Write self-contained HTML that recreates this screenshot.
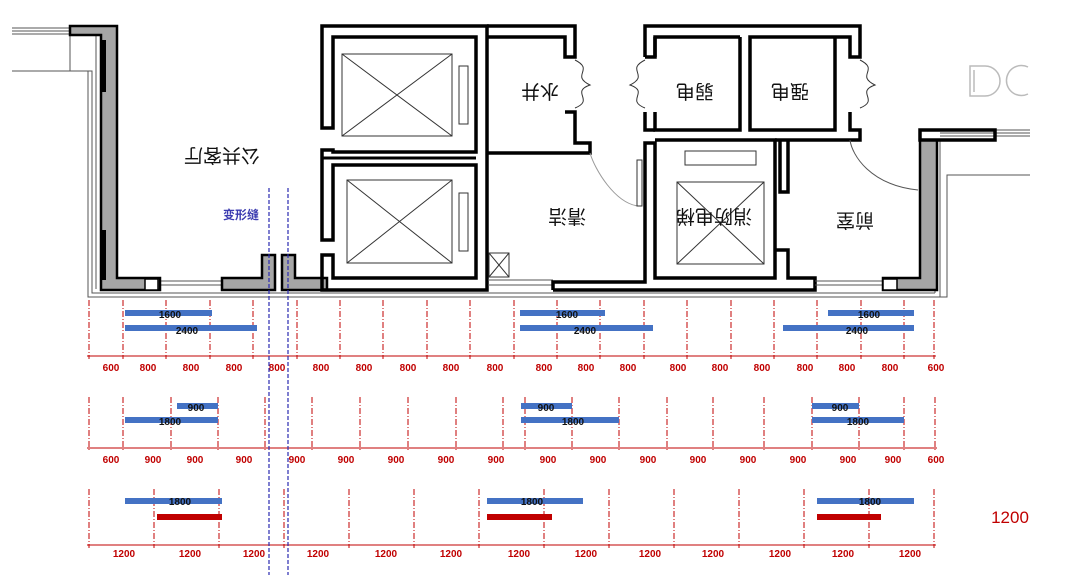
<!DOCTYPE html>
<html><head><meta charset="utf-8"><style>
html,body{margin:0;padding:0;background:#fff;}
svg{display:block;}
.w{fill:none;stroke:#000;stroke-width:3.5;}
.g{fill:#a6a6a6;stroke:#000;stroke-width:2.5;}
.t{fill:none;stroke:#555;stroke-width:1;}
.x{fill:none;stroke:#333;stroke-width:1;}
.cn{font-family:"Liberation Sans","Noto Sans CJK SC",sans-serif;font-size:19px;fill:#111;}
.d{stroke:#c00000;stroke-width:1;stroke-dasharray:6,2,1,2;}
.dl{stroke:#c00000;stroke-width:1;}
.lb{font-family:"Liberation Sans",sans-serif;font-size:10px;font-weight:bold;fill:#c00000;text-anchor:middle;}
.bl{fill:#4472c4;}
.bt{font-family:"Liberation Sans",sans-serif;font-size:10px;font-weight:bold;fill:#111;text-anchor:middle;}
</style></head><body>
<svg width="1080" height="579" viewBox="0 0 1080 579" xmlns="http://www.w3.org/2000/svg">
<g class="t">
<line x1="12" y1="28" x2="70" y2="28"/><line x1="12" y1="31" x2="70" y2="31"/><line x1="12" y1="34" x2="70" y2="34"/>
<polyline points="12,71 92,71 92,293 935,293"/><line x1="70" y1="35" x2="70" y2="71"/>
<polyline points="96,36 96,289"/><polyline points="88,71 88,297 947,297 947,175 1030,175"/>
<line x1="160" y1="281" x2="222" y2="281"/><line x1="160" y1="285" x2="222" y2="285"/>
<line x1="940" y1="130" x2="1030" y2="130"/><line x1="940" y1="133" x2="1030" y2="133"/><line x1="940" y1="136" x2="1030" y2="136"/>
<line x1="935" y1="140" x2="935" y2="293"/><line x1="940" y1="140" x2="940" y2="297"/>
</g>
<path class="g" d="M70,26 H117 V278 H160 V290 H101 V35 H70 Z"/>
<rect x="101" y="40" width="5" height="52" fill="#000"/>
<rect x="101" y="230" width="5" height="50" fill="#000"/>
<rect x="145" y="279" width="13" height="11" fill="#fff" stroke="#000" stroke-width="1.5"/>
<path class="g" d="M222,278 H262 V255 H275 V290 H222 Z"/>
<path class="g" d="M282,290 V255 H295 V278 H327 V290 Z"/>
<path class="w" d="M322,26 H487 V290 H322 V255 H333 V278 H476 V165 H333 V240 H322 V150 H333 V152 H476 V37 H333 V128 H322 Z"/>
<line x1="322" y1="158" x2="476" y2="158" stroke="#000" stroke-width="3"/>
<rect x="342" y="54" width="110" height="82" class="x"/><line x1="342" y1="54" x2="452" y2="136" class="x"/><line x1="452" y1="54" x2="342" y2="136" class="x"/>
<rect x="347" y="180" width="105" height="83" class="x"/><line x1="347" y1="180" x2="452" y2="263" class="x"/><line x1="452" y1="180" x2="347" y2="263" class="x"/>
<rect x="459" y="66" width="9" height="58" class="x"/><rect x="459" y="193" width="9" height="58" class="x"/>
<path class="w" d="M487,26 H575 V57 H565 V37 H488"/>
<path class="w" d="M565,112 H575 V143 H590 V153 H488"/>
<path d="M575,60 C595,70 570,75 590,85 C570,92 595,100 575,108" class="x"/>
<rect x="489" y="253" width="20" height="24" class="x"/><line x1="489" y1="253" x2="509" y2="277" class="x"/><line x1="509" y1="253" x2="489" y2="277" class="x"/>
<line x1="488" y1="280" x2="553" y2="280" class="t"/><line x1="488" y1="285" x2="553" y2="285" class="t"/>
<path class="w" d="M553,290 V282 H645 V143 H655 V278 H775 V140 H655"/>
<path d="M590,153 C595,170 615,203 638,206" fill="none" stroke="#999" stroke-width="1"/>
<rect x="637" y="160" width="5" height="46" class="x"/>
<rect x="677" y="182" width="87" height="82" class="x"/><line x1="677" y1="182" x2="764" y2="264" class="x"/><line x1="764" y1="182" x2="677" y2="264" class="x"/>
<rect x="685" y="151" width="71" height="14" class="x"/>
<path class="w" d="M645,57 V26 H860 V57 H850 V37 H750 V130 H835 V37 M740,37 H655 V57 H645"/>
<path class="w" d="M655,37 V57 M655,112 V130 H740 V37"/>
<path class="w" d="M645,112 V130 H655"/>
<path class="w" d="M850,112 V130 H860 V140 H775"/>
<path class="w" d="M780,140 V192 H788 V140"/>
<path d="M645,60 C625,70 650,75 630,85 C650,92 625,100 645,108" class="x"/>
<path d="M860,60 C880,70 855,75 875,85 C855,92 880,100 860,108" class="x"/>
<path d="M850,140 C852,155 870,185 918,190" fill="none" stroke="#555" stroke-width="1"/>
<path class="w" d="M775,250 H788 V278 H815 V290 H553"/>
<line x1="815" y1="281" x2="883" y2="281" class="t"/><line x1="815" y1="285" x2="883" y2="285" class="t"/>
<path class="g" d="M883,290 V278 H920 V140 H937 V290 Z"/>
<rect x="883" y="279" width="14" height="11" fill="#fff" stroke="#000" stroke-width="1.5"/>
<path class="w" d="M920,140 V130 H995 V140 Z"/>
<path d="M985,66 H970 V96 H985 A15,15 0 0 0 985,66 Z M974,70 V92" fill="none" stroke="#bbb" stroke-width="1.5"/>
<path d="M1028,67 A15,15 0 1 0 1028,94" fill="none" stroke="#bbb" stroke-width="1.5"/>
<text class="cn" transform="rotate(180 222 156)" x="222" y="163" text-anchor="middle">公共客厅</text>
<text class="cn" transform="rotate(180 540 92)" x="540" y="99" text-anchor="middle">水井</text>
<text class="cn" transform="rotate(180 695 92)" x="695" y="99" text-anchor="middle">弱电</text>
<text class="cn" transform="rotate(180 790 92)" x="790" y="99" text-anchor="middle">强电</text>
<text class="cn" transform="rotate(180 567 217)" x="567" y="224" text-anchor="middle">清洁</text>
<text class="cn" transform="rotate(180 714 217)" x="714" y="224" text-anchor="middle">消防电梯</text>
<text class="cn" transform="rotate(180 855 221)" x="855" y="228" text-anchor="middle">前室</text>
<text x="241" y="219" font-family="Liberation Sans,Noto Sans CJK SC,sans-serif" font-size="12" font-weight="bold" fill="#3b3bb0" text-anchor="middle">变形缝</text>
<line class="dl" x1="89" y1="356" x2="934" y2="356"/>
<line class="dl" x1="89" y1="448" x2="935" y2="448"/>
<line class="dl" x1="89" y1="545" x2="934" y2="545"/>
<g id="ticks"></g>
<rect class="bl" x="125" y="310" width="87" height="6"/><text class="bt" x="170" y="318">1600</text>
<rect class="bl" x="125" y="325" width="132" height="6"/><text class="bt" x="187" y="334">2400</text>
<rect class="bl" x="520" y="310" width="85" height="6"/><text class="bt" x="567" y="318">1600</text>
<rect class="bl" x="520" y="325" width="133" height="6"/><text class="bt" x="585" y="334">2400</text>
<rect class="bl" x="828" y="310" width="86" height="6"/><text class="bt" x="869" y="318">1600</text>
<rect class="bl" x="783" y="325" width="131" height="6"/><text class="bt" x="857" y="334">2400</text>
<rect class="bl" x="177" y="403" width="41" height="6"/><text class="bt" x="196" y="411">900</text>
<rect class="bl" x="125" y="417" width="93" height="6"/><text class="bt" x="170" y="425">1800</text>
<rect class="bl" x="521" y="403" width="51" height="6"/><text class="bt" x="546" y="411">900</text>
<rect class="bl" x="521" y="417" width="98" height="6"/><text class="bt" x="573" y="425">1800</text>
<rect class="bl" x="812" y="403" width="47" height="6"/><text class="bt" x="840" y="411">900</text>
<rect class="bl" x="812" y="417" width="92" height="6"/><text class="bt" x="858" y="425">1800</text>
<rect class="bl" x="125" y="498" width="97" height="6"/><text class="bt" x="180" y="505">1800</text>
<rect x="157" y="514" width="65" height="6" fill="#c00000"/>
<rect class="bl" x="487" y="498" width="96" height="6"/><text class="bt" x="532" y="505">1800</text>
<rect x="487" y="514" width="65" height="6" fill="#c00000"/>
<rect class="bl" x="817" y="498" width="97" height="6"/><text class="bt" x="870" y="505">1800</text>
<rect x="817" y="514" width="64" height="6" fill="#c00000"/>
<text x="1010" y="523" font-family="Liberation Sans,sans-serif" font-size="17" fill="#c00000" text-anchor="middle">1200</text>
<line x1="269" y1="188" x2="269" y2="575" stroke="#2a2ab0" stroke-width="1.2" stroke-dasharray="4,2"/>
<line x1="288" y1="188" x2="288" y2="575" stroke="#2a2ab0" stroke-width="1.2" stroke-dasharray="4,2"/>
</svg>
<script>
(function(){
var ns="http://www.w3.org/2000/svg",g=document.getElementById("ticks");
function ln(x1,y1,x2,y2,c){var l=document.createElementNS(ns,"line");l.setAttribute("x1",x1);l.setAttribute("y1",y1);l.setAttribute("x2",x2);l.setAttribute("y2",y2);l.setAttribute("class",c);g.appendChild(l);}
function tx(x,y,s){var t=document.createElementNS(ns,"text");t.setAttribute("x",x);t.setAttribute("y",y);t.setAttribute("class","lb");t.textContent=s;g.appendChild(t);}
function row(ts,y0,y1,ly,labs,lx){
 ts.forEach(function(x){ln(x,y0,x,y1+3,"d");ln(x-2,y1,x+2,y1,"dl");});
 labs.forEach(function(s,i){tx(lx[i],ly,s);});
}
var r1=[89,123],i;for(i=1;i<=18;i++)r1.push(Math.round(123+i*43.4));r1.push(934);
var lx1=[111,148,191,234,277,321,364,408,451,495,544,586,628,678,720,762,805,847,890,936];
var l1=[];for(i=0;i<lx1.length;i++)l1.push(i==0||i==lx1.length-1?"600":"800");
row(r1,300,356,371,l1,lx1);
var r2=[89,123,171,218,265,312,360,408,456,503,525,572,619,667,713,764,812,859,904,935];
var lx2=[111,153,195,244,297,346,396,446,496,548,598,648,698,748,798,848,893,936];
var l2=[];for(i=0;i<lx2.length;i++)l2.push(i==0||i==lx2.length-1?"600":"900");
row(r2,397,448,463,l2,lx2);
var r3=[];for(i=0;i<=13;i++)r3.push(Math.round(89+i*65));
var lx3=[124,190,254,318,386,451,519,586,650,713,780,843,910];
var l3=[];for(i=0;i<13;i++)l3.push("1200");
row(r3,489,545,557,l3,lx3);
})();
</script>
</body></html>
